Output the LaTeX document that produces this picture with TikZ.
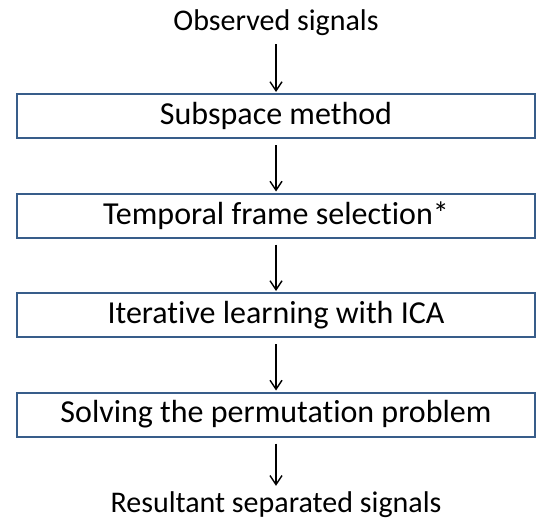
\documentclass[tikz,border=0pt]{standalone}
\usepackage{fontspec}
\setmainfont{Carlito}[Ligatures=NoCommon]
\usetikzlibrary{arrows.meta}
\definecolor{boxblue}{RGB}{56,93,138}
\begin{document}
\begin{tikzpicture}[x=1pt,y=-1pt,
  stage/.style={draw=boxblue,line width=2pt,minimum width=518pt,minimum height=44pt,inner sep=0pt,font=\fontsize{32}{36}\selectfont},
  io/.style={inner sep=0pt,font=\fontsize{30}{34}\selectfont},
  flow/.style={-{Straight Barb[length=9pt,width=12pt]},line width=1.4pt}]
\useasboundingbox (0,0) rectangle (538,522);

\node[io] (obs) at (276,23) {Observed signals};
\node[stage] (sub) at (276,116) {Subspace method};
\node[stage] (sel) at (276,215.5) {Temporal frame selection*};
\node[stage] (ica) at (276,315) {Iterative learning with ICA};
\node[stage] (perm) at (276,414.5) {Solving the permutation problem};
\node[io] (res) at (276,505) {Resultant separated signals};

\draw[flow,shorten <=8pt,shorten >=1pt] (obs) -- (sub);
\draw[flow,shorten <=6pt,shorten >=1pt] (sub) -- (sel);
\draw[flow,shorten <=6pt,shorten >=1pt] (sel) -- (ica);
\draw[flow,shorten <=6pt,shorten >=1pt] (ica) -- (perm);
\draw[flow,shorten <=6pt,shorten >=6pt] (perm) -- (res);
\end{tikzpicture}
\end{document}
